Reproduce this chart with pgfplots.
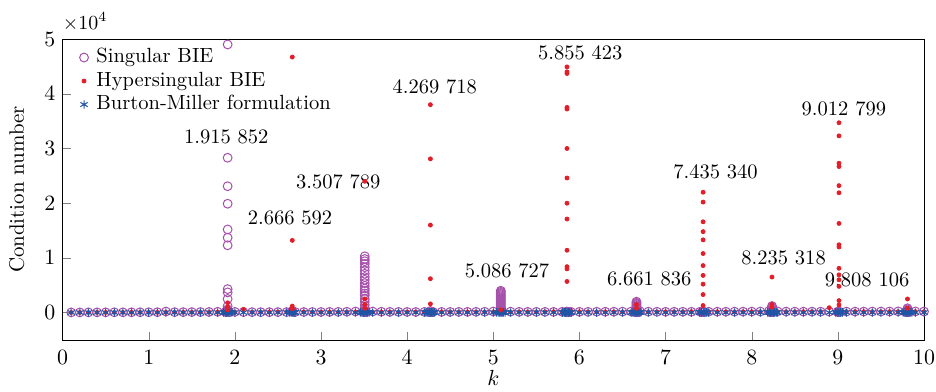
\documentclass[border=0pt]{standalone}
\usepackage{pgfplots}
\usepackage{pgfplotstable}
\pgfplotsset{compat=1.18}
\definecolor{cpurple}{RGB}{165,80,170}
\definecolor{cred}{RGB}{228,30,40}
\definecolor{cblue}{RGB}{30,85,165}

\pgfplotstableread{
k s h b
0.1 0.004 0.003 0.002
0.2 0.004 0.003 0.002
0.3 0.005 0.003 0.002
0.4 0.005 0.004 0.002
0.5 0.005 0.004 0.002
0.6 0.006 0.004 0.002
0.7 0.006 0.004 0.002
0.8 0.006 0.005 0.002
0.9 0.007 0.005 0.002
1.0 0.007 0.005 0.002
1.1 0.008 0.005 0.002
1.2 0.020 0.006 0.002
1.3 0.009 0.006 0.002
1.4 0.009 0.006 0.002
1.5 0.010 0.006 0.002
1.6 0.011 0.007 0.002
1.7 0.012 0.007 0.002
1.8 0.015 0.008 0.002
1.9 0.030 0.010 0.003
2.0 0.014 0.008 0.002
2.1 0.010 0.060 0.002
2.2 0.009 0.008 0.002
2.3 0.009 0.009 0.002
2.4 0.009 0.010 0.002
2.5 0.010 0.012 0.002
2.6 0.010 0.018 0.002
2.7 0.011 0.020 0.002
2.8 0.011 0.012 0.002
2.9 0.012 0.010 0.002
3.0 0.012 0.009 0.002
3.1 0.013 0.009 0.002
3.2 0.014 0.009 0.002
3.3 0.016 0.010 0.002
3.4 0.020 0.012 0.002
3.5 0.040 0.015 0.003
3.6 0.020 0.011 0.002
3.7 0.016 0.010 0.002
3.8 0.014 0.010 0.002
3.9 0.013 0.010 0.002
4.0 0.013 0.011 0.002
4.1 0.012 0.012 0.002
4.2 0.013 0.015 0.002
4.3 0.013 0.020 0.003
4.4 0.013 0.014 0.002
4.5 0.013 0.012 0.002
4.6 0.014 0.011 0.002
4.7 0.014 0.011 0.002
4.8 0.015 0.011 0.002
4.9 0.016 0.011 0.002
5.0 0.020 0.011 0.002
5.1 0.040 0.012 0.003
5.2 0.018 0.012 0.002
5.3 0.015 0.012 0.002
5.4 0.014 0.012 0.002
5.5 0.014 0.013 0.002
5.6 0.014 0.014 0.002
5.7 0.014 0.016 0.002
5.8 0.015 0.020 0.002
5.9 0.015 0.030 0.003
6.0 0.015 0.016 0.002
6.1 0.015 0.014 0.002
6.2 0.016 0.013 0.002
6.3 0.016 0.013 0.002
6.4 0.017 0.013 0.002
6.5 0.018 0.013 0.002
6.6 0.020 0.014 0.002
6.7 0.030 0.015 0.003
6.8 0.018 0.014 0.002
6.9 0.016 0.014 0.002
7.0 0.016 0.014 0.002
7.1 0.016 0.015 0.002
7.2 0.016 0.016 0.002
7.3 0.016 0.018 0.002
7.4 0.017 0.025 0.003
7.5 0.017 0.020 0.002
7.6 0.017 0.016 0.002
7.7 0.017 0.015 0.002
7.8 0.018 0.015 0.002
7.9 0.018 0.015 0.002
8.0 0.019 0.015 0.002
8.1 0.020 0.016 0.002
8.2 0.030 0.017 0.003
8.3 0.022 0.016 0.002
8.4 0.019 0.016 0.002
8.5 0.018 0.016 0.002
8.6 0.018 0.017 0.002
8.7 0.018 0.018 0.002
8.8 0.018 0.020 0.002
8.9 0.019 0.090 0.002
9.0 0.019 0.030 0.003
9.1 0.019 0.020 0.002
9.2 0.019 0.018 0.002
9.3 0.019 0.017 0.002
9.4 0.020 0.017 0.002
9.5 0.020 0.017 0.002
9.6 0.021 0.017 0.002
9.7 0.023 0.018 0.002
9.8 0.030 0.020 0.003
9.9 0.022 0.018 0.002
10.0 0.020 0.017 0.002
}\baseline

\pgfplotstableread{
k v
1.915852 4.90
1.915852 2.83
1.915852 2.31
1.915852 1.99
1.915852 1.52
1.915852 1.37
1.915852 1.23
1.915852 0.43
1.915852 0.37
1.915852 0.25
1.915852 0.12
1.915852 0.06
1.915852 0.03
1.895 0.01
1.935 0.01
2.666592 0.03
2.666592 0.02
3.507789 1.03
3.507789 0.98
3.507789 0.94
3.507789 0.89
3.507789 0.83
3.507789 0.77
3.507789 0.71
3.507789 0.65
3.507789 0.60
3.507789 0.54
3.507789 0.49
3.507789 0.44
3.507789 0.40
3.507789 0.35
3.507789 0.31
3.507789 0.25
3.507789 0.20
3.507789 0.14
3.507789 0.09
3.507789 0.04
3.490 0.01
3.525 0.01
4.269718 0.03
4.255 0.01
4.285 0.01
5.086727 0.40
5.086727 0.38
5.086727 0.36
5.086727 0.34
5.086727 0.32
5.086727 0.30
5.086727 0.28
5.086727 0.26
5.086727 0.24
5.086727 0.22
5.086727 0.20
5.086727 0.18
5.086727 0.16
5.086727 0.14
5.086727 0.12
5.086727 0.10
5.086727 0.08
5.086727 0.06
5.086727 0.04
5.086727 0.02
5.870 0.01
5.855423 0.02
5.840 0.01
6.661836 0.20
6.661836 0.18
6.661836 0.16
6.661836 0.14
6.661836 0.12
6.661836 0.10
6.661836 0.08
6.661836 0.06
6.661836 0.04
6.661836 0.02
6.645 0.01
6.680 0.01
7.435340 0.02
7.420 0.01
7.450 0.01
8.235318 0.12
8.235318 0.10
8.235318 0.08
8.235318 0.06
8.235318 0.04
8.235318 0.02
8.220 0.01
8.250 0.01
9.012799 0.02
9.000 0.01
9.025 0.01
9.808106 0.08
9.808106 0.06
9.808106 0.04
9.808106 0.02
9.790 0.01
9.825 0.01
}\singclu

\pgfplotstableread{
k v
1.915852 0.18
1.915852 0.10
1.915852 0.05
2.666592 4.67
2.666592 1.32
2.666592 0.12
2.666592 0.07
3.507789 2.40
3.507789 0.25
3.507789 0.15
3.507789 0.08
4.269718 3.80
4.269718 2.81
4.269718 1.60
4.269718 0.62
4.269718 0.16
5.086727 0.05
5.855423 4.49
5.855423 4.40
5.855423 4.37
5.855423 3.75
5.855423 3.72
5.855423 3.00
5.855423 2.46
5.855423 2.00
5.855423 1.71
5.855423 1.14
5.855423 0.84
5.855423 0.80
5.855423 0.57
6.661836 0.15
6.661836 0.08
7.435340 2.20
7.435340 2.02
7.435340 1.66
7.435340 1.48
7.435340 1.33
7.435340 1.08
7.435340 0.86
7.435340 0.68
7.435340 0.52
7.435340 0.33
7.435340 0.13
8.235318 0.65
8.235318 0.15
8.235318 0.10
9.012799 3.47
9.012799 3.23
9.012799 2.73
9.012799 2.67
9.012799 2.32
9.012799 2.19
9.012799 1.63
9.012799 1.24
9.012799 1.20
9.012799 0.81
9.012799 0.69
9.012799 0.60
9.012799 0.48
9.012799 0.22
9.012799 0.14
9.808106 0.25
9.808106 0.08
}\hypclu

\pgfplotstableread{
k v
1.865852 0.004
1.885852 0.004
1.900852 0.004
1.915852 0.005
1.930852 0.004
1.945852 0.004
1.965852 0.004
2.636592 0.004
2.651592 0.004
2.666592 0.005
2.681592 0.004
2.696592 0.004
3.457789 0.004
3.477789 0.004
3.492789 0.004
3.507789 0.005
3.522789 0.004
3.537789 0.004
3.557789 0.004
4.219718 0.004
4.239718 0.004
4.254718 0.004
4.269718 0.005
4.284718 0.004
4.299718 0.004
4.319718 0.004
5.036727 0.004
5.056727 0.004
5.071727 0.004
5.086727 0.005
5.101727 0.004
5.116727 0.004
5.136727 0.004
5.805423 0.004
5.825423 0.004
5.840423 0.004
5.855423 0.005
5.870423 0.004
5.885423 0.004
5.905423 0.004
6.611836 0.004
6.631836 0.004
6.646836 0.004
6.661836 0.005
6.676836 0.004
6.691836 0.004
6.711836 0.004
7.395340 0.004
7.415340 0.004
7.435340 0.005
7.455340 0.004
7.475340 0.004
8.185318 0.004
8.205318 0.004
8.220318 0.004
8.235318 0.005
8.250318 0.004
8.265318 0.004
8.285318 0.004
8.972799 0.004
8.992799 0.004
9.012799 0.005
9.032799 0.004
9.052799 0.004
9.758106 0.004
9.778106 0.004
9.793106 0.004
9.808106 0.005
9.823106 0.004
9.838106 0.004
9.858106 0.004
}\bmclu

\begin{document}
\fontsize{10.3}{12.3}\selectfont
\begin{tikzpicture}
\path[use as bounding box] (-31.3bp,-26bp) rectangle (436.7bp,170bp);
\begin{axis}[
  at={(0,0)}, anchor=south west,
  scale only axis, width=430.7bp, height=150.5bp,
  xmin=0, xmax=10, ymin=-0.5, ymax=5,
  xtick={0,1,...,10}, ytick={0,1,...,5},
  tick align=inside, tick pos=left,
  major tick length=4bp,
  tick label style={font=\fontsize{10.5}{12.5}\selectfont},
  label style={font=\fontsize{10.5}{12.5}\selectfont},
  xticklabel style={yshift=-1.5bp},
  xlabel={$k$}, ylabel={Condition number},
  xlabel style={yshift=4bp},
  ylabel style={yshift=3bp},
  legend style={draw=none, fill=none, at={(axis cs:0.17,4.92)}, anchor=north west,
    row sep=0pt, column sep=2bp, font=\fontsize{10.3}{12.3}\selectfont, legend cell align=left, inner sep=1bp,
    nodes={inner ysep=0.5bp, text height=8bp, text depth=2.75bp}},
  clip=false,
]
\addplot[only marks, mark=o, mark size=2.2bp, color=cpurple, mark options={line width=0.5bp}] table[x=k,y=s] {\baseline};
\addlegendentry{Singular BIE}
\addplot[only marks, mark=*, mark size=1bp, color=cred] table[x=k,y=h] {\baseline};
\addlegendentry{Hypersingular BIE}
\addplot[only marks, mark=asterisk, mark size=2.1bp, color=cblue, mark options={line width=0.5bp}] table[x=k,y=b] {\baseline};
\addlegendentry{Burton-Miller formulation}
\addplot[only marks, mark=o, mark size=2.2bp, color=cpurple, mark options={line width=0.5bp}, forget plot] table[x=k,y=v] {\singclu};
\addplot[only marks, mark=asterisk, mark size=2.1bp, color=cblue, mark options={line width=0.5bp}, forget plot] table[x=k,y=v] {\bmclu};
\addplot[only marks, mark=*, mark size=1bp, color=cred, forget plot] table[x=k,y=v] {\hypclu};
\node at (axis cs:1.90,3.21) {1.915 852};
\node at (axis cs:2.64,1.74) {2.666 592};
\node at (axis cs:3.20,2.39) {3.507 789};
\node at (axis cs:4.32,4.13) {4.269 718};
\node at (axis cs:5.16,0.76) {5.086 727};
\node at (axis cs:6.01,4.75) {5.855 423};
\node at (axis cs:6.81,0.62) {6.661 836};
\node at (axis cs:7.58,2.57) {7.435 340};
\node at (axis cs:8.37,1.00) {8.235 318};
\node at (axis cs:9.07,3.73) {9.012 799};
\node at (axis cs:9.34,0.60) {9.808 106};
\node[anchor=base west, inner sep=0pt] at ([yshift=5bp]rel axis cs:0,1) {$\times 10^4$};
\end{axis}
\end{tikzpicture}
\end{document}
